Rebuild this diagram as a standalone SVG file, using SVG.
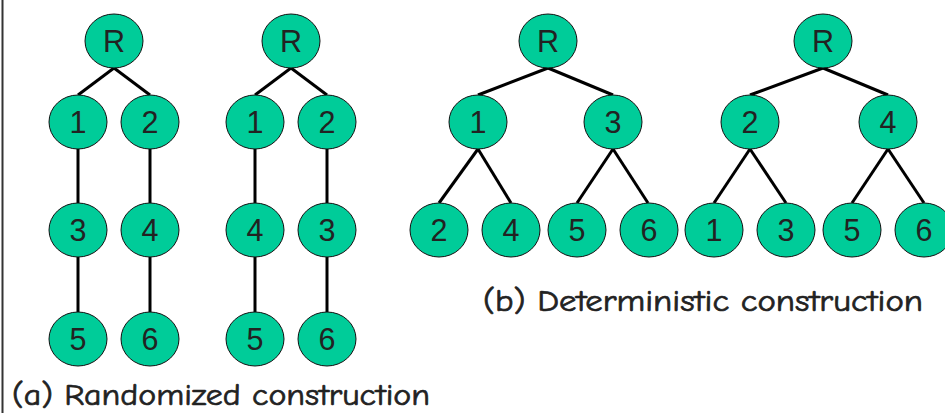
<svg xmlns="http://www.w3.org/2000/svg" width="945" height="413" viewBox="0 0 945 413">
  <style>
    .node ellipse { fill: #00CC99; stroke: #111; stroke-width: 1; }
    .node text { font-family: "Liberation Sans", Arial, sans-serif; font-size: 30.5px; fill: #222; text-anchor: middle; }
    .edges line { stroke: #000; stroke-width: 3; }
    .caption { font-family: "Comic Sans MS", "Comic Neue", "DejaVu Sans", sans-serif; font-size: 31px; fill: #222; stroke: #222; stroke-width: 0.7; }
  </style>
  <rect width="945" height="413" fill="#fff"/>
  <line x1="2.5" y1="0" x2="2.5" y2="413" stroke="#333" stroke-width="2"/>

  <!-- connectors -->
  <g class="edges">
    <!-- tree a1 -->
    <line x1="114" y1="68" x2="78" y2="95"/>
    <line x1="114" y1="68" x2="150" y2="95"/>
    <line x1="78" y1="149" x2="78" y2="203"/>
    <line x1="150" y1="149" x2="150" y2="203"/>
    <line x1="78" y1="257" x2="78" y2="312"/>
    <line x1="150" y1="257" x2="150" y2="312"/>
    <!-- tree a2 -->
    <line x1="291" y1="68" x2="255" y2="95"/>
    <line x1="291" y1="68" x2="327" y2="95"/>
    <line x1="255" y1="149" x2="255" y2="203"/>
    <line x1="327" y1="149" x2="327" y2="203"/>
    <line x1="255" y1="257" x2="255" y2="312"/>
    <line x1="327" y1="257" x2="327" y2="312"/>
    <!-- tree b1 -->
    <line x1="548" y1="68" x2="478" y2="95"/>
    <line x1="548" y1="68" x2="613" y2="95"/>
    <line x1="478" y1="149" x2="439" y2="203"/>
    <line x1="478" y1="149" x2="511" y2="203"/>
    <line x1="613" y1="149" x2="577" y2="203"/>
    <line x1="613" y1="149" x2="648" y2="203"/>
    <!-- tree b2 -->
    <line x1="823" y1="68" x2="750" y2="95"/>
    <line x1="823" y1="68" x2="888" y2="95"/>
    <line x1="750" y1="149" x2="714" y2="203"/>
    <line x1="750" y1="149" x2="786" y2="203"/>
    <line x1="888" y1="149" x2="852" y2="203"/>
    <line x1="888" y1="149" x2="924" y2="203"/>
  </g>

  <!-- tree a1 -->
  <g id="a1-R" class="node"><ellipse cx="114" cy="41" rx="29" ry="27"/><text x="114" y="52">R</text></g>
  <g id="a1-1" class="node"><ellipse cx="78" cy="122" rx="29" ry="27"/><text x="78" y="133">1</text></g>
  <g id="a1-2" class="node"><ellipse cx="150" cy="122" rx="29" ry="27"/><text x="150" y="133">2</text></g>
  <g id="a1-3" class="node"><ellipse cx="78" cy="230" rx="29" ry="27"/><text x="78" y="241">3</text></g>
  <g id="a1-4" class="node"><ellipse cx="150" cy="230" rx="29" ry="27"/><text x="150" y="241">4</text></g>
  <g id="a1-5" class="node"><ellipse cx="78" cy="339" rx="29" ry="27"/><text x="78" y="350">5</text></g>
  <g id="a1-6" class="node"><ellipse cx="150" cy="339" rx="29" ry="27"/><text x="150" y="350">6</text></g>

  <!-- tree a2 -->
  <g id="a2-R" class="node"><ellipse cx="291" cy="41" rx="29" ry="27"/><text x="291" y="52">R</text></g>
  <g id="a2-1" class="node"><ellipse cx="255" cy="122" rx="29" ry="27"/><text x="255" y="133">1</text></g>
  <g id="a2-2" class="node"><ellipse cx="327" cy="122" rx="29" ry="27"/><text x="327" y="133">2</text></g>
  <g id="a2-4" class="node"><ellipse cx="255" cy="230" rx="29" ry="27"/><text x="255" y="241">4</text></g>
  <g id="a2-3" class="node"><ellipse cx="327" cy="230" rx="29" ry="27"/><text x="327" y="241">3</text></g>
  <g id="a2-5" class="node"><ellipse cx="255" cy="339" rx="29" ry="27"/><text x="255" y="350">5</text></g>
  <g id="a2-6" class="node"><ellipse cx="327" cy="339" rx="29" ry="27"/><text x="327" y="350">6</text></g>

  <!-- tree b1 -->
  <g id="b1-R" class="node"><ellipse cx="548" cy="41" rx="29" ry="27"/><text x="548" y="52">R</text></g>
  <g id="b1-1" class="node"><ellipse cx="478" cy="122" rx="29" ry="27"/><text x="478" y="133">1</text></g>
  <g id="b1-3" class="node"><ellipse cx="613" cy="122" rx="29" ry="27"/><text x="613" y="133">3</text></g>
  <g id="b1-2" class="node"><ellipse cx="439" cy="230" rx="29" ry="27"/><text x="439" y="241">2</text></g>
  <g id="b1-4" class="node"><ellipse cx="511" cy="230" rx="29" ry="27"/><text x="511" y="241">4</text></g>
  <g id="b1-5" class="node"><ellipse cx="577" cy="230" rx="29" ry="27"/><text x="577" y="241">5</text></g>
  <g id="b1-6" class="node"><ellipse cx="649" cy="230" rx="29" ry="27"/><text x="649" y="241">6</text></g>

  <!-- tree b2 -->
  <g id="b2-R" class="node"><ellipse cx="823" cy="41" rx="29" ry="27"/><text x="823" y="52">R</text></g>
  <g id="b2-2" class="node"><ellipse cx="750" cy="122" rx="29" ry="27"/><text x="750" y="133">2</text></g>
  <g id="b2-4" class="node"><ellipse cx="888" cy="122" rx="29" ry="27"/><text x="888" y="133">4</text></g>
  <g id="b2-1" class="node"><ellipse cx="714" cy="230" rx="29" ry="27"/><text x="714" y="241">1</text></g>
  <g id="b2-3" class="node"><ellipse cx="786" cy="230" rx="29" ry="27"/><text x="786" y="241">3</text></g>
  <g id="b2-5" class="node"><ellipse cx="852" cy="230" rx="29" ry="27"/><text x="852" y="241">5</text></g>
  <g id="b2-6" class="node"><ellipse cx="924" cy="230" rx="29" ry="27"/><text x="924" y="241">6</text></g>

  <!-- captions -->
  <text class="caption" x="12" y="405" textLength="418" lengthAdjust="spacingAndGlyphs">(a) Randomized construction</text>
  <text class="caption" x="483" y="311" textLength="440" lengthAdjust="spacingAndGlyphs">(b) Deterministic construction</text>
</svg>
